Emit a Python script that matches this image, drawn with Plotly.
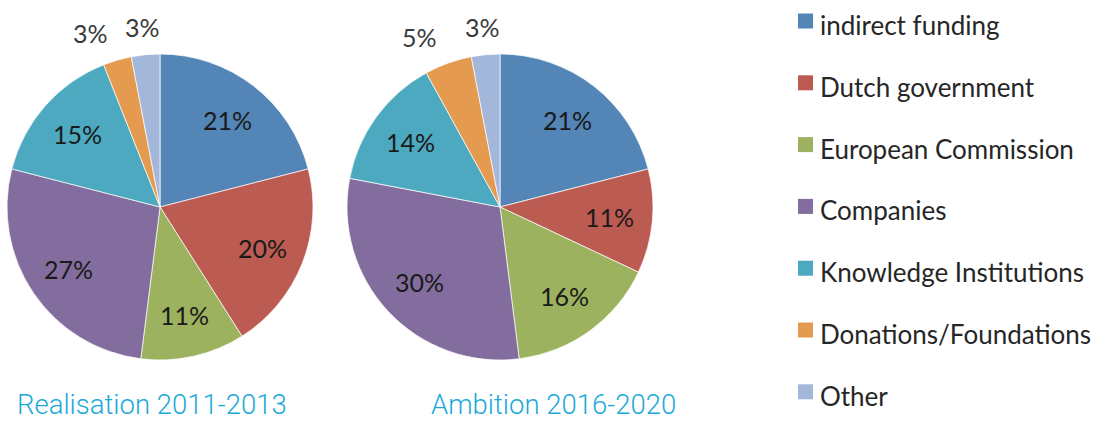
import math
import plotly.graph_objects as go

categories = ["indirect funding", "Dutch government", "European Commission",
              "Companies", "Knowledge Institutions", "Donations/Foundations", "Other"]
realisation_2011_2013 = [21, 20, 11, 27, 15, 3, 3]
ambition_2016_2020 = [21, 11, 16, 30, 14, 5, 3]
chart_titles = ["Realisation 2011-2013", "Ambition 2016-2020"]

colors = ["#5385B6", "#BC5B52", "#9DB25E", "#836D9E", "#4DA9BF", "#E49A4F", "#A3B7DA"]

W, H = 1093, 421
R = 153
PIE_CENTERS = [(160, 207), (500, 207)]
TITLE_X = [152, 553]
TITLE_Y = 404


def px(x):
    return x / W


def py(y):
    return (H - y) / H


def dom(cx, cy):
    return dict(x=[px(cx - R), px(cx + R)], y=[py(cy + R), py(cy - R)])


fig = go.Figure()
annotations = []
for vals, (cx, cy) in zip([realisation_2011_2013, ambition_2016_2020], PIE_CENTERS):
    fig.add_trace(go.Pie(
        labels=categories, values=vals, sort=False, direction="clockwise",
        rotation=0, domain=dom(cx, cy),
        marker=dict(colors=colors, line=dict(color="rgba(255,255,255,0.7)", width=1)),
        textinfo="none", showlegend=False, hoverinfo="label+percent",
    ))
    # data labels placed along each slice's mid-angle (computed from the values)
    total = sum(vals)
    cum = 0
    for v in vals:
        mid = 2 * math.pi * (cum + v / 2) / total
        cum += v
        s, c = math.sin(mid), math.cos(mid)
        if v / total > 0.06:
            r = 0.72 * R
            xa = "center"
            col = "#1A1A1A"
        else:
            r = R + 28
            xa = "right" if s < -0.2 else ("left" if s > 0.2 else "center")
            col = "#3A3A3A"
        annotations.append(dict(
            x=px(cx + r * s), y=py(cy - r * c), xref="paper", yref="paper",
            text=f"{v}%", showarrow=False, xanchor=xa, yanchor="middle",
            font=dict(family="Lato", size=25, color=col)))

for t, tx in zip(chart_titles, TITLE_X):
    annotations.append(dict(
        x=px(tx), y=py(TITLE_Y), xref="paper", yref="paper", text=t,
        showarrow=False, xanchor="center", yanchor="middle", borderpad=0,
        font=dict(family="Roboto", size=27.5, color="#1BA9D9", weight=300)))

# legend drawn as squares + labels
shapes = []
LEG_X, LEG_Y0, LEG_DY, SQ = 798, 25, 61.8, 15
for i, (name, col) in enumerate(zip(categories, colors)):
    yc = LEG_Y0 + i * LEG_DY
    shapes.append(dict(type="rect", xref="paper", yref="paper",
                       x0=px(LEG_X), x1=px(LEG_X + SQ),
                       y0=py(yc - 4 + SQ / 2), y1=py(yc - 4 - SQ / 2),
                       fillcolor=col, line=dict(width=0)))
    annotations.append(dict(
        x=px(LEG_X + SQ + 5), y=py(yc), xref="paper", yref="paper", text=name,
        showarrow=False, xanchor="left", yanchor="middle",
        font=dict(family="Lato", size=26, color="#262626")))

fig.update_layout(
    width=W, height=H, margin=dict(l=0, r=0, t=0, b=0),
    paper_bgcolor="white", plot_bgcolor="white",
    annotations=annotations, shapes=shapes, showlegend=False,
)

fig.write_html("out.html")
